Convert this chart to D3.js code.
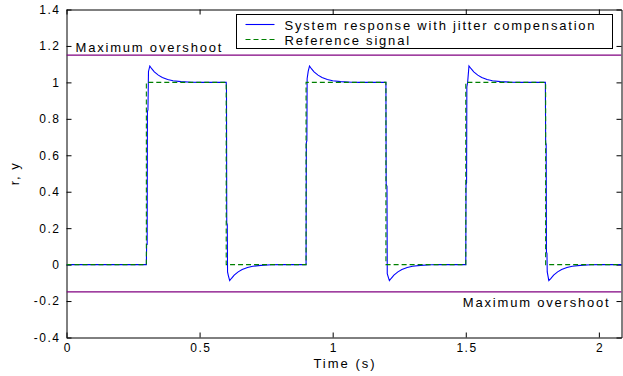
<!DOCTYPE html>
<html>
<head>
<meta charset="utf-8">
<title>Jitter compensation response</title>
<script src="https://cdn.jsdelivr.net/npm/d3@7"></script>
<style>
  body { margin: 0; background: #fff; }
  svg text { font-family: "Liberation Sans", Arial, sans-serif; fill: #000; }
</style>
</head>
<body>
<div id="chart"></div>
<script>
// reference square wave (green dashed)
var refT = [0, 0.3, 0.3, 0.6, 0.6, 0.9, 0.9, 1.2, 1.2, 1.5, 1.5, 1.8, 1.8, 2.085];
var refY = [0, 0, 1, 1, 0, 0, 1, 1, 0, 0, 1, 1, 0, 0];

// system response with jitter compensation (blue)
var respT = [
  0, 0.300, 0.301, 0.303, 0.304, 0.306, 0.308, 0.313, 0.320, 0.330, 0.345, 0.360, 0.380, 0.400, 0.430, 0.470, 0.500, 0.600,
  0.601, 0.602, 0.604, 0.605, 0.608, 0.613, 0.620, 0.630, 0.645, 0.660, 0.680, 0.700, 0.730, 0.770, 0.800, 0.900,
  0.901, 0.903, 0.904, 0.908, 0.913, 0.920, 0.930, 0.945, 0.960, 0.980, 1.000, 1.030, 1.070, 1.100, 1.200,
  1.201, 1.204, 1.205, 1.208, 1.213, 1.220, 1.230, 1.245, 1.260, 1.280, 1.300, 1.330, 1.370, 1.400, 1.500,
  1.501, 1.503, 1.504, 1.507, 1.512, 1.520, 1.530, 1.545, 1.560, 1.580, 1.600, 1.630, 1.670, 1.700, 1.799,
  1.800, 1.802, 1.803, 1.805, 1.806, 1.812, 1.820, 1.830, 1.845, 1.860, 1.880, 1.900, 1.930, 1.970, 2.000, 2.085
];
var respY = [
  0, 0, 0.11, 0.11, 0.84, 0.85, 1.06, 1.09, 1.075, 1.058, 1.04, 1.027, 1.016, 1.009, 1.004, 1.001, 1.0, 1.0,
  0.97, 0.23, 0.22, -0.04, -0.06, -0.088, -0.075, -0.058, -0.04, -0.027, -0.016, -0.009, -0.004, -0.001, 0, 0,
  0.67, 0.68, 1.02, 1.06, 1.09, 1.075, 1.058, 1.04, 1.027, 1.016, 1.009, 1.004, 1.001, 1.0, 1.0,
  0.44, 0.43, -0.05, -0.065, -0.088, -0.075, -0.058, -0.04, -0.027, -0.016, -0.009, -0.004, -0.001, 0, 0,
  0.44, 0.45, 0.975, 1.0, 1.09, 1.075, 1.058, 1.04, 1.027, 1.016, 1.009, 1.004, 1.001, 1.0, 1.0,
  0.67, 0.66, 0.07, 0.06, -0.04, -0.088, -0.075, -0.058, -0.04, -0.027, -0.016, -0.009, -0.004, -0.001, 0, 0
];

// overshoot limits (purple)
var overshootLevels = [1.15, -0.15];

var xTicks = [0, 0.5, 1, 1.5, 2];
var yTicks = [-0.4, -0.2, 0, 0.2, 0.4, 0.6, 0.8, 1, 1.2, 1.4];

var W = 623, H = 376;
var m = {left: 66.5, right: 1.5, top: 9.5, bottom: 38.5};
var iw = W - m.left - m.right, ih = H - m.top - m.bottom;

var svg = d3.select("#chart").append("svg")
  .attr("width", W).attr("height", H);

var g = svg.append("g").attr("transform", "translate(" + m.left + "," + m.top + ")");

var x = d3.scaleLinear().domain([0, 2.085]).range([0, iw]);
var y = d3.scaleLinear().domain([-0.4, 1.4]).range([ih, 0]);

g.append("clipPath").attr("id", "clip")
  .append("rect").attr("width", iw).attr("height", ih);

// axes, matlab style ticks pointing inward
function fmt(d) { return String(+d.toFixed(1)); }

var xAxis = g.append("g").attr("transform", "translate(0," + ih + ")")
  .call(d3.axisBottom(x).tickValues(xTicks).tickSizeInner(-5).tickSizeOuter(0).tickPadding(6).tickFormat(fmt));
var xTop = g.append("g")
  .call(d3.axisTop(x).tickValues(xTicks).tickSizeInner(-5).tickSizeOuter(0).tickFormat(""));
var yAxis = g.append("g")
  .call(d3.axisLeft(y).tickValues(yTicks).tickSizeInner(-5).tickSizeOuter(0).tickPadding(6).tickFormat(fmt));
var yRight = g.append("g").attr("transform", "translate(" + iw + ",0)")
  .call(d3.axisRight(y).tickValues(yTicks).tickSizeInner(-5).tickSizeOuter(0).tickFormat(""));

[xAxis, xTop, yAxis, yRight].forEach(function(a) {
  a.select(".domain").attr("stroke", "#000");
  a.selectAll(".tick line").attr("stroke", "#000");
  a.selectAll("text").attr("font-size", 12).attr("letter-spacing", "1.5px")
    .attr("font-family", "Liberation Sans, Arial, sans-serif").attr("fill", "#000");
});
// letter-spacing trails the last glyph; nudge centred x labels back
xAxis.selectAll("text").attr("dx", "0.75px");

var plot = g.append("g").attr("clip-path", "url(#clip)");

// overshoot limits
plot.selectAll("line.lim").data(overshootLevels).enter().append("line")
  .attr("class", "lim")
  .attr("x1", 0).attr("x2", iw)
  .attr("y1", function(d) { return y(d); }).attr("y2", function(d) { return y(d); })
  .attr("stroke", "#800080").attr("stroke-width", 1.2);

var line = d3.line()
  .x(function(d) { return x(d[0]); })
  .y(function(d) { return y(d[1]); });

var resp = d3.zip(respT, respY);
var ref = d3.zip(refT, refY);

plot.append("path").datum(resp)
  .attr("d", line).attr("fill", "none")
  .attr("stroke", "#0000ff").attr("stroke-width", 1.1);

plot.append("path").datum(ref)
  .attr("d", line).attr("fill", "none")
  .attr("stroke", "#008000").attr("stroke-width", 1.1)
  .attr("stroke-dasharray", "5,3");

// annotations
g.append("text").attr("x", 9).attr("y", y(1.15) - 3)
  .attr("font-size", 13).attr("letter-spacing", "1.8px")
  .text("Maximum overshoot");
g.append("text").attr("x", iw - 11).attr("y", y(-0.15) + 15)
  .attr("text-anchor", "end")
  .attr("font-size", 13).attr("letter-spacing", "1.8px")
  .text("Maximum overshoot");

// legend
var lg = svg.append("g").attr("transform", "translate(236.5,14.5)");
lg.append("rect").attr("width", 376).attr("height", 34)
  .attr("fill", "#fff").attr("stroke", "#000");
var legItems = [
  {label: "System response with jitter compensation", color: "#0000ff", dash: null},
  {label: "Reference signal", color: "#008000", dash: "5,3"}
];
legItems.forEach(function(it, i) {
  var yy = 10 + i * 15;
  lg.append("line").attr("x1", 9).attr("x2", 38).attr("y1", yy).attr("y2", yy)
    .attr("stroke", it.color).attr("stroke-width", 1.1)
    .attr("stroke-dasharray", it.dash);
  lg.append("text").attr("x", 48).attr("y", yy + 5)
    .attr("font-size", 13).attr("letter-spacing", "1.8px")
    .text(it.label);
});

// axis titles
svg.append("text").attr("x", m.left + iw / 2 + 1).attr("y", 368)
  .attr("text-anchor", "middle").attr("font-size", 13).attr("letter-spacing", "2px")
  .text("Time (s)");
svg.append("text")
  .attr("transform", "translate(19," + (m.top + ih / 2) + ") rotate(-90)")
  .attr("text-anchor", "middle").attr("font-size", 13).attr("letter-spacing", "1.5px")
  .text("r, y");
</script>
</body>
</html>
